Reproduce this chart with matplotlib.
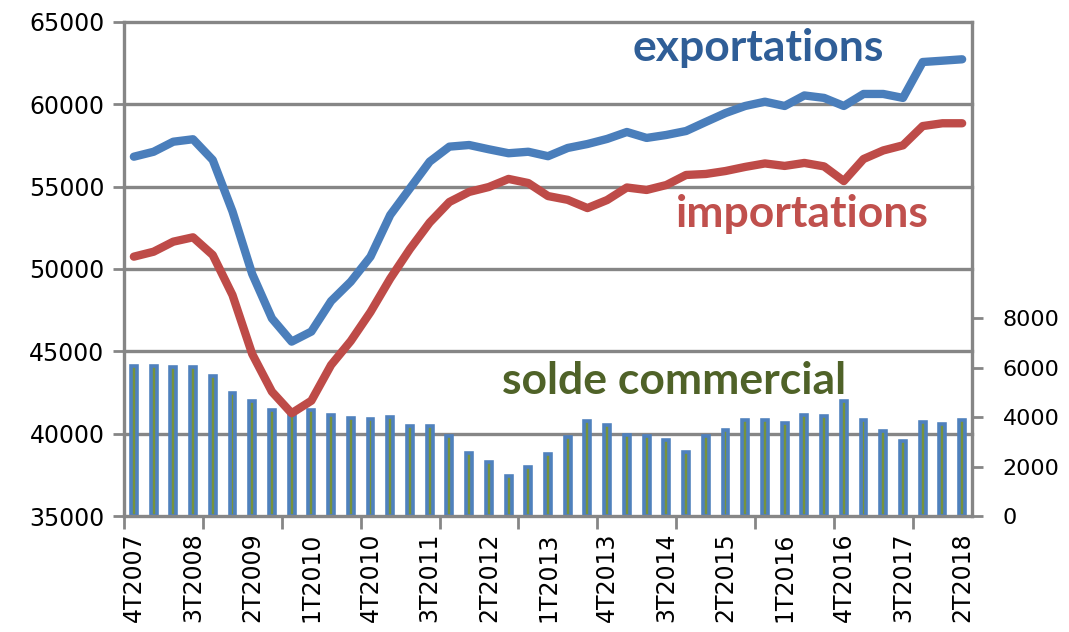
import numpy as np
from matplotlib import pyplot as plt

# trimestres 4T2007 -> 2T2018
quarters = ["4T2007"] + [f"{q}T{y}" for y in range(2008, 2018) for q in range(1, 5)] + ["1T2018", "2T2018"]

exportations = [56820, 57120, 57730, 57880, 56620, 53500, 49700, 47000, 45590, 46200,
                48050, 49230, 50750, 53280, 54900, 56520, 57430, 57530, 57270, 57030,
                57120, 56850, 57350, 57590, 57900, 58320, 57960, 58140, 58380, 58930,
                59470, 59900, 60160, 59900, 60540, 60390, 59900, 60630, 60630, 60390,
                62570, 62650, 62735]

importations = [50750, 51050, 51660, 51925, 50850, 48420, 44840, 42550, 41240, 42000,
                44170, 45630, 47390, 49420, 51215, 52820, 54070, 54680, 54980, 55470,
                55220, 54430, 54200, 53700, 54190, 54950, 54800, 55100, 55710, 55770,
                55950, 56200, 56410, 56260, 56440, 56230, 55340, 56680, 57200, 57510,
                58680, 58850, 58850]

solde = [6090, 6090, 6035, 6020, 5655, 4980, 4640, 4300, 4150, 4275,
         4100, 3965, 3925, 4005, 3625, 3655, 3250, 2570, 2205, 1600,
         2000, 2530, 3195, 3855, 3695, 3260, 3220, 3085, 2585, 3220,
         3465, 3900, 3900, 3760, 4100, 4030, 4640, 3870, 3425, 3020,
         3790, 3735, 3900]

left_ticks = [35000, 40000, 45000, 50000, 55000, 60000, 65000]
right_ticks = [0, 2000, 4000, 6000, 8000]

GRID = "#868686"
W, H = 1069, 632

fig = plt.figure(figsize=(W / 100, H / 100), dpi=100)
axb = fig.add_axes([124 / W, (H - 516) / H, 848 / W, 494 / H])
ax = axb.twinx()

x = np.arange(len(quarters))

###
# barres solde commercial (axe de droite)
axb.bar(x, solde, width=0.3, color="#77933C", edgecolor="#4F81BD", linewidth=2.6, zorder=2)
axb.set_ylim(0, 20000)
axb.set_yticks(right_ticks)
axb.yaxis.tick_right()
axb.tick_params(axis="y", direction="out", length=8, width=2, color=GRID, labelsize=16, pad=14)

# quadrillage de l'axe de gauche, dessiné derrière les barres
for v in left_ticks[1:]:
    f = (v - left_ticks[0]) / (left_ticks[-1] - left_ticks[0])
    axb.plot([0, 1], [f, f], transform=axb.transAxes, color=GRID, lw=2.4, zorder=0, clip_on=False)

###
# courbes exportations / importations (axe de gauche)
ax.plot(x, exportations, color="#4A7EBB", lw=6, solid_joinstyle="round", solid_capstyle="round", zorder=3)
ax.plot(x, importations, color="#BE4B48", lw=6, solid_joinstyle="round", solid_capstyle="round", zorder=3)
ax.set_ylim(35000, 65000)
ax.set_yticks(left_ticks)
ax.yaxis.tick_left()
ax.tick_params(axis="y", direction="out", length=8, width=2, color=GRID, labelsize=17, pad=6)

ax.set_xlim(-0.5, len(quarters) - 0.5)
axb.set_xlim(-0.5, len(quarters) - 0.5)

# axe x : graduations tous les 4 trimestres, étiquettes tous les 3
axb.set_xticks(np.arange(-0.5, len(quarters), 4), minor=True)
axb.set_xticks(x[::3])
axb.set_xticklabels(quarters[::3], rotation=90)
axb.tick_params(axis="x", which="major", length=0, labelsize=17, pad=12)
axb.tick_params(axis="x", which="minor", direction="out", length=9, width=2, color=GRID)
ax.tick_params(axis="x", length=0, labelbottom=False)

for a in (ax, axb):
    for s in a.spines.values():
        s.set_visible(False)
for s in ("left", "right", "bottom"):
    axb.spines[s].set_visible(True)
    axb.spines[s].set_color(GRID)
    axb.spines[s].set_linewidth(2.4)

# étiquettes des séries
ax.text(31.65, 63420, "exportations", color="#2F5E97", fontsize=32, fontweight="bold",
        family="Lato", ha="center", va="center", zorder=5)
ax.text(33.9, 53340, "importations", color="#C0504D", fontsize=32, fontweight="bold",
        family="Lato", ha="center", va="center", zorder=5)
ax.text(27.4, 43200, "solde commercial", color="#4F6228", fontsize=32, fontweight="bold",
        family="Lato", ha="center", va="center", zorder=5)

fig.savefig("out.png", dpi=100)
